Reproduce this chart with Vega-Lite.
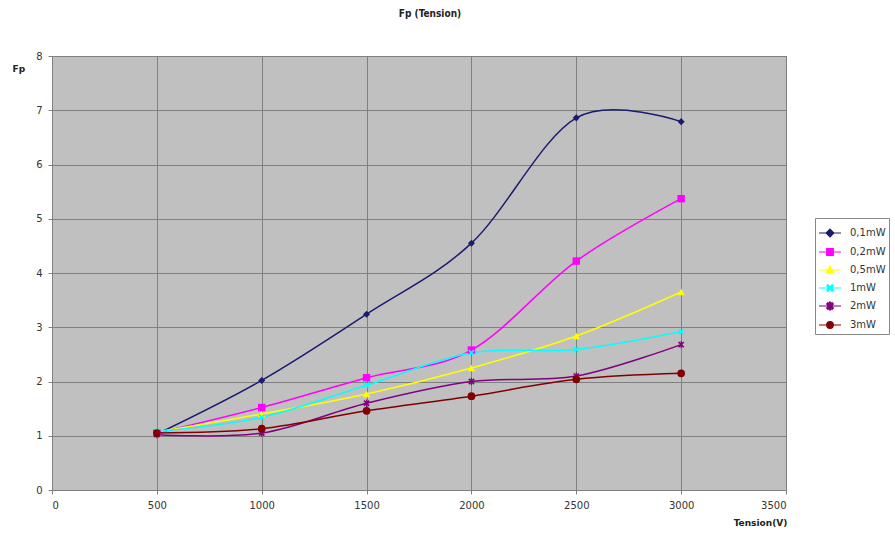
{
  "$schema": "https://vega.github.io/schema/vega-lite/v6.json",
  "width": 734,
  "height": 434,
  "autosize": "none",
  "padding": {"left": 52, "top": 56, "right": 109, "bottom": 44},
  "background": "white",
  "config": {
    "view": {"fill": "#c0c0c0", "stroke": "#808080", "strokeWidth": 1},
    "font": "DejaVu Sans"
  },
  "title": {
    "text": "Fp (Tension)",
    "fontSize": 10,
    "fontWeight": "bold",
    "font": "DejaVu Sans Condensed",
    "color": "#222",
    "anchor": "middle",
    "offset": 32,
    "dx": 11
  },
  "data": {
    "values": [
      {"V": 500, "Fp": 1.03, "s": "0,1mW"},
      {"V": 1000, "Fp": 2.02, "s": "0,1mW"},
      {"V": 1500, "Fp": 3.24, "s": "0,1mW"},
      {"V": 2000, "Fp": 4.55, "s": "0,1mW"},
      {"V": 2500, "Fp": 6.86, "s": "0,1mW"},
      {"V": 3000, "Fp": 6.79, "s": "0,1mW"},
      {"V": 500, "Fp": 1.05, "s": "0,2mW"},
      {"V": 1000, "Fp": 1.52, "s": "0,2mW"},
      {"V": 1500, "Fp": 2.07, "s": "0,2mW"},
      {"V": 2000, "Fp": 2.58, "s": "0,2mW"},
      {"V": 2500, "Fp": 4.22, "s": "0,2mW"},
      {"V": 3000, "Fp": 5.37, "s": "0,2mW"},
      {"V": 500, "Fp": 1.07, "s": "0,5mW"},
      {"V": 1000, "Fp": 1.4, "s": "0,5mW"},
      {"V": 1500, "Fp": 1.77, "s": "0,5mW"},
      {"V": 2000, "Fp": 2.25, "s": "0,5mW"},
      {"V": 2500, "Fp": 2.84, "s": "0,5mW"},
      {"V": 3000, "Fp": 3.65, "s": "0,5mW"},
      {"V": 500, "Fp": 1.08, "s": "1mW"},
      {"V": 1000, "Fp": 1.34, "s": "1mW"},
      {"V": 1500, "Fp": 1.93, "s": "1mW"},
      {"V": 2000, "Fp": 2.53, "s": "1mW"},
      {"V": 2500, "Fp": 2.59, "s": "1mW"},
      {"V": 3000, "Fp": 2.92, "s": "1mW"},
      {"V": 500, "Fp": 1.02, "s": "2mW"},
      {"V": 1000, "Fp": 1.05, "s": "2mW"},
      {"V": 1500, "Fp": 1.6, "s": "2mW"},
      {"V": 2000, "Fp": 2.0, "s": "2mW"},
      {"V": 2500, "Fp": 2.1, "s": "2mW"},
      {"V": 3000, "Fp": 2.68, "s": "2mW"},
      {"V": 500, "Fp": 1.05, "s": "3mW"},
      {"V": 1000, "Fp": 1.13, "s": "3mW"},
      {"V": 1500, "Fp": 1.46, "s": "3mW"},
      {"V": 2000, "Fp": 1.73, "s": "3mW"},
      {"V": 2500, "Fp": 2.04, "s": "3mW"},
      {"V": 3000, "Fp": 2.15, "s": "3mW"}
    ]
  },
  "encoding": {
    "x": {
      "field": "V",
      "type": "quantitative",
      "scale": {"domain": [0, 3500], "nice": false, "zero": false},
      "axis": {
        "values": [0, 500, 1000, 1500, 2000, 2500, 3000, 3500],
        "format": "d",
        "title": "Tension(V)",
        "titleX": 708,
        "titleY": 32,
        "titleAlign": "center",
        "titleBaseline": "middle",
        "titleFontSize": 9,
        "titleFontWeight": "bold",
        "titleColor": "#222",
        "labelFontSize": 10,
        "labelColor": "#333",
        "labelPadding": 6,
        "tickColor": "#808080",
        "tickSize": 4,
        "domainColor": "#808080",
        "gridColor": "#808080",
        "gridOpacity": 1,
        "gridWidth": 1
      }
    },
    "y": {
      "field": "Fp",
      "type": "quantitative",
      "scale": {"domain": [0, 8], "nice": false},
      "axis": {
        "values": [0, 1, 2, 3, 4, 5, 6, 7, 8],
        "title": "Fp",
        "titleAngle": 0,
        "titleX": -40,
        "titleY": 12,
        "titleAlign": "left",
        "titleBaseline": "middle",
        "titleFontSize": 9,
        "titleFontWeight": "bold",
        "titleColor": "#222",
        "labelFontSize": 10,
        "labelColor": "#333",
        "labelPadding": 6,
        "tickColor": "#808080",
        "tickSize": 4,
        "domainColor": "#808080",
        "gridColor": "#808080",
        "gridOpacity": 1,
        "gridWidth": 1
      }
    },
    "color": {
      "field": "s",
      "type": "nominal",
      "scale": {
        "domain": ["0,1mW", "0,2mW", "0,5mW", "1mW", "2mW", "3mW"],
        "range": ["#1a1a70", "#ff00ff", "#ffff00", "#00ffff", "#800080", "#800000"]
      },
      "legend": {
        "title": null,
        "orient": "none",
        "legendX": 763,
        "legendY": 162,
        "padding": 3,
        "strokeColor": "#888",
        "fillColor": "white",
        "symbolType": "M-1,0H1",
        "symbolSize": 484,
        "rowPadding": -4.5,
        "labelFontSize": 10,
        "labelColor": "#333",
        "labelOffset": 8,
        "encode": {
          "symbols": {
            "update": {
              "shape": {"signal": "datum.value === '0,1mW' ? 'M-1,0H1M0,-0.35L0.35,0L0,0.35L-0.35,0Z' : datum.value === '0,2mW' ? 'M-1,0H1M-0.3,-0.3H0.3V0.3H-0.3Z' : datum.value === '0,5mW' ? 'M-1,0H1M0,-0.33L0.33,0.27H-0.33Z' : datum.value === '1mW' ? 'M-1,0H1M-0.193,-0.302L0,-0.109L0.193,-0.302L0.302,-0.193L0.109,0L0.302,0.193L0.193,0.302L0,0.109L-0.193,0.302L-0.302,0.193L-0.109,0L-0.302,-0.193Z' : datum.value === '2mW' ? 'M-1,0H1M-0.193,-0.302L0,-0.109L0.193,-0.302L0.302,-0.193L0.109,0L0.302,0.193L0.193,0.302L0,0.109L-0.193,0.302L-0.302,0.193L-0.109,0L-0.302,-0.193ZM-0.05,-0.35H0.05V0.35H-0.05Z' : 'M-1,0H1M0.3,0A0.3,0.3,0,1,1,-0.3,0A0.3,0.3,0,1,1,0.3,0Z'"},
              "fill": {"scale": "color", "field": "value"},
              "stroke": {"scale": "color", "field": "value"},
              "strokeWidth": {"value": 1.2},
              "fillOpacity": {"value": 1},
              "opacity": {"value": 1}
            }
          }
        }
      }
    }
  },
  "layer": [
    {
      "mark": {"type": "line", "interpolate": "cardinal", "strokeWidth": 1.5}
    },
    {
      "transform": [{"filter": {"field": "s", "equal": "0,1mW"}}],
      "mark": {"type": "point", "filled": true, "size": 50, "opacity": 1, "shape": "diamond"}
    },
    {
      "transform": [{"filter": {"field": "s", "equal": "0,2mW"}}],
      "mark": {"type": "point", "filled": true, "size": 55, "opacity": 1, "shape": "square"}
    },
    {
      "transform": [{"filter": {"field": "s", "equal": "0,5mW"}}],
      "mark": {"type": "point", "filled": true, "size": 55, "opacity": 1, "shape": "triangle-up"}
    },
    {
      "transform": [{"filter": {"field": "s", "equal": "1mW"}}],
      "mark": {"type": "point", "filled": true, "size": 55, "opacity": 1, "shape": "M-0.552,-0.863L0,-0.311L0.552,-0.863L0.863,-0.552L0.311,0L0.863,0.552L0.552,0.863L0,0.311L-0.552,0.863L-0.863,0.552L-0.311,0L-0.863,-0.552Z"}
    },
    {
      "transform": [{"filter": {"field": "s", "equal": "2mW"}}],
      "mark": {"type": "point", "filled": true, "size": 55, "opacity": 1, "shape": "M-0.552,-0.863L0,-0.311L0.552,-0.863L0.863,-0.552L0.311,0L0.863,0.552L0.552,0.863L0,0.311L-0.552,0.863L-0.863,0.552L-0.311,0L-0.863,-0.552ZM-0.15,-1H0.15V1H-0.15Z"}
    },
    {
      "transform": [{"filter": {"field": "s", "equal": "3mW"}}],
      "mark": {"type": "point", "filled": true, "size": 60, "opacity": 1, "shape": "circle"}
    }
  ]
}
